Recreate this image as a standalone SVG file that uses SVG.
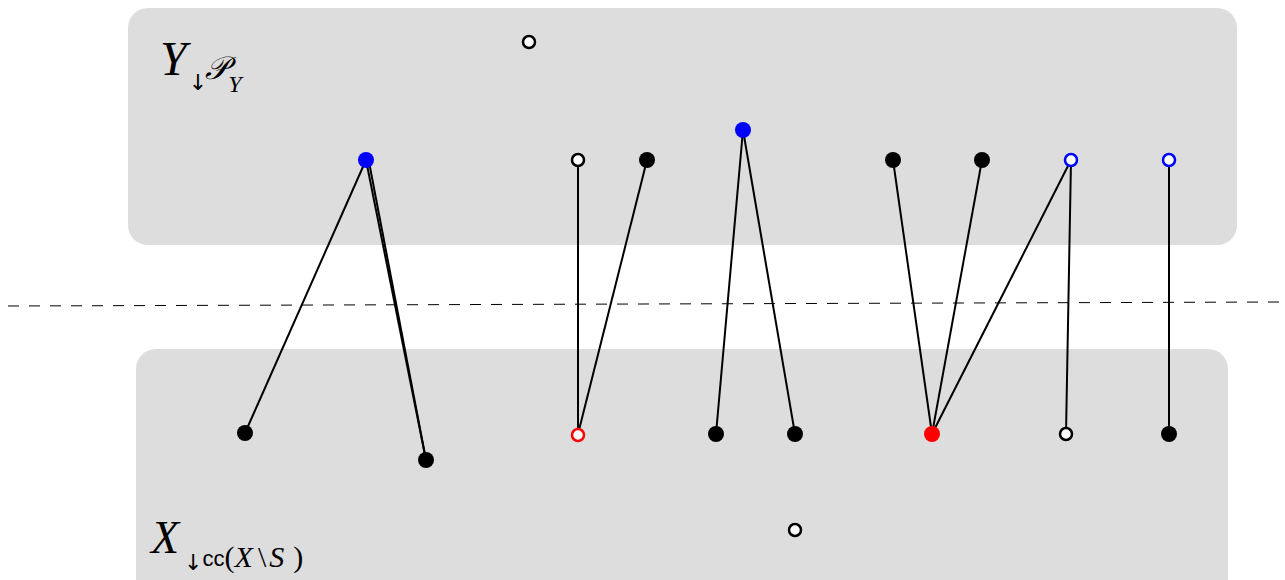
<svg xmlns="http://www.w3.org/2000/svg" width="1285" height="580" viewBox="0 0 1285 580">
<style>
.box{fill:#dddddd}
.e{stroke:#000;stroke-width:2;fill:none}
.f{fill:#000}
.o{fill:#fff;stroke:#000;stroke-width:2.5}
.o.ob{stroke:#0000ff}
.o.or{stroke:#ff0000}
.lbl{font-family:"Liberation Serif","DejaVu Serif",serif;fill:#000}
.i{font-style:italic}
.a{font-family:"DejaVu Sans",sans-serif;font-style:normal}
.s{font-family:"Liberation Sans","DejaVu Sans",sans-serif;font-style:normal}
</style>
<g id="regionY"><rect class="box" x="128" y="8" width="1109" height="237" rx="20"/></g>
<g id="regionX"><rect class="box" x="136" y="349" width="1092" height="250" rx="20"/></g>
<line x1="8" y1="306" x2="1280" y2="302" stroke="#000" stroke-width="1" stroke-dasharray="11,10"/>
<g id="labelY"><text class="lbl" x="160" y="75"><tspan class="i" font-size="48">Y</tspan><tspan class="a" dx="2" dy="15" font-size="22">↓</tspan><tspan class="i" dx="-2" dy="-11" font-size="32">𝒫</tspan><tspan class="i" dy="13" font-size="24">Y</tspan></text></g>
<g id="labelX"><text class="lbl" x="151" y="553"><tspan class="i" font-size="46">X</tspan><tspan class="a" dx="5" dy="17" font-size="22">↓</tspan><tspan class="s" dy="-4" font-size="22">cc</tspan><tspan dy="1" font-size="30">(</tspan><tspan class="i" font-size="30">X</tspan><tspan dx="5" font-size="30">\</tspan><tspan class="i" dx="3" font-size="30">S</tspan><tspan dx="9" font-size="30">)</tspan></text></g>
<g id="edges">
<line class="e" x1="366" y1="160" x2="245" y2="433"/>
<line class="e" x1="366" y1="160" x2="426" y2="460"/>
<line class="e" x1="369" y1="162" x2="426" y2="460"/>
<line class="e" x1="578" y1="160" x2="578" y2="434"/>
<line class="e" x1="647" y1="160" x2="578" y2="434"/>
<line class="e" x1="743" y1="130" x2="716" y2="434"/>
<line class="e" x1="743" y1="130" x2="795" y2="434"/>
<line class="e" x1="893" y1="160" x2="932" y2="434"/>
<line class="e" x1="982" y1="160" x2="932" y2="434"/>
<line class="e" x1="1071" y1="160" x2="932" y2="434"/>
<line class="e" x1="1071" y1="160" x2="1066" y2="434"/>
<line class="e" x1="1169" y1="160" x2="1169" y2="434"/>
</g>
<g id="nodes">
<g id="n_top_free"><circle class="o" cx="529" cy="42" r="6"/></g>
<g id="y1"><circle cx="366" cy="160" r="8" fill="#0000ff"/></g>
<g id="y2"><circle class="o" cx="578" cy="160" r="6"/></g>
<g id="y3"><circle class="f" cx="647" cy="160" r="8"/></g>
<g id="y4"><circle cx="743" cy="130" r="8" fill="#0000ff"/></g>
<g id="y5"><circle class="f" cx="893" cy="160" r="8"/></g>
<g id="y6"><circle class="f" cx="982" cy="160" r="8"/></g>
<g id="y7"><circle class="o ob" cx="1071" cy="160" r="6"/></g>
<g id="y8"><circle class="o ob" cx="1169" cy="160" r="6"/></g>
<g id="x1"><circle class="f" cx="245" cy="433" r="8"/></g>
<g id="x2"><circle class="f" cx="426" cy="460" r="8"/></g>
<g id="x3"><circle class="o or" cx="578" cy="435" r="6"/></g>
<g id="x4"><circle class="f" cx="716" cy="434" r="8"/></g>
<g id="x5"><circle class="f" cx="795" cy="434" r="8"/></g>
<g id="x6"><circle cx="932" cy="434" r="8" fill="#ff0000"/></g>
<g id="x7"><circle class="o" cx="1066" cy="434" r="6"/></g>
<g id="x8"><circle class="f" cx="1169" cy="434" r="8"/></g>
<g id="n_bottom_free"><circle class="o" cx="795" cy="530" r="6"/></g>
</g>
</svg>
